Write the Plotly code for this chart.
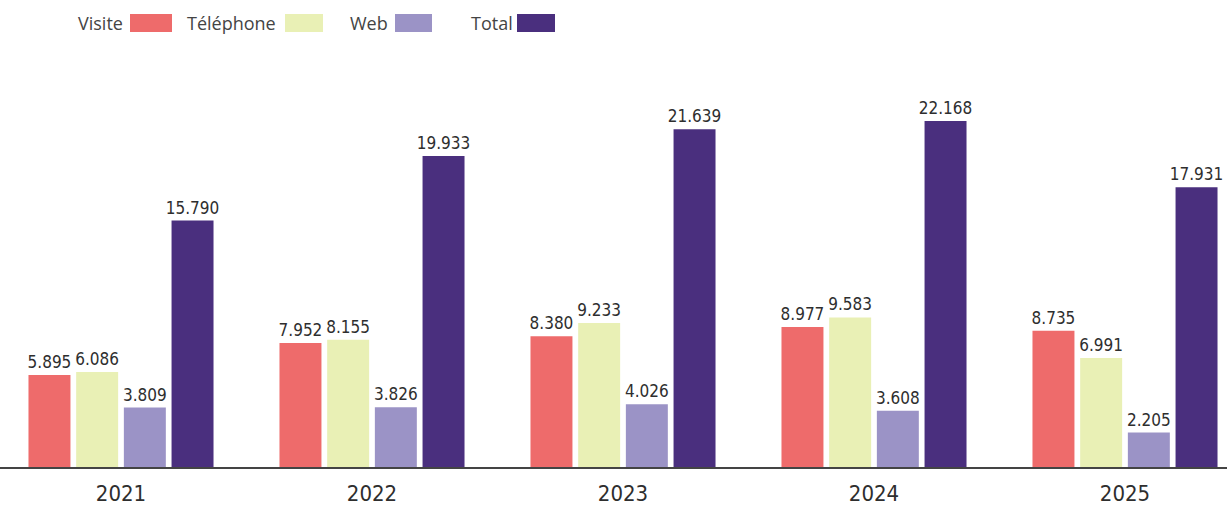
import plotly.graph_objects as go

years = ["2021", "2022", "2023", "2024", "2025"]
visite = [5895, 7952, 8380, 8977, 8735]
telephone = [6086, 8155, 9233, 9583, 6991]
web = [3809, 3826, 4026, 3608, 2205]
total = [15790, 19933, 21639, 22168, 17931]

series = [
    ("Visite", visite, "#EE6B6B"),
    ("Téléphone", telephone, "#E9F0B5"),
    ("Web", web, "#9B93C6"),
    ("Total", total, "#4A2F7E"),
]

W, H = 1227, 512
top, bottom = 80, 45
plot_h = H - top - bottom
xpos = list(range(len(years)))

label_font = "DejaVu Sans Condensed, Liberation Sans Narrow, Arial Narrow, sans-serif"

fig = go.Figure()
for name, vals, col in series:
    fig.add_trace(go.Bar(
        x=xpos, y=vals, name=name,
        marker=dict(color=col, line=dict(width=0)),
        texttemplate="%{y:,}", textposition="outside",
        textfont=dict(family=label_font, size=17, color="#2e2e2e"),
        constraintext="none",
        cliponaxis=False, showlegend=False,
    ))

# custom legend: text then swatch
legend_items = [(78, 130, 172), (187, 285, 323), (350, 395, 432), (471, 517, 555)]
annotations = []
shapes = []
for (name, _, col), (tx, sx0, sx1) in zip(series, legend_items):
    annotations.append(dict(
        x=tx / W, y=(H - bottom - 23) / plot_h, xref="paper", yref="paper",
        text=name, showarrow=False, xanchor="left", yanchor="middle",
        xshift=-2,
        font=dict(family="Open Sans, sans-serif", size=18, color="#444444"),
    ))
    shapes.append(dict(
        type="rect", xref="paper", yref="paper",
        x0=sx0 / W, x1=sx1 / W,
        y0=(H - bottom - 32) / plot_h, y1=(H - bottom - 14) / plot_h,
        fillcolor=col, line=dict(width=0),
    ))

unit = 251.0
start = 121.0
fig.update_layout(
    width=W, height=H,
    margin=dict(l=0, r=0, t=top, b=bottom),
    paper_bgcolor="white", plot_bgcolor="white",
    barmode="group", bargap=0.24, bargroupgap=0.12,
    separators=",.",
    annotations=annotations, shapes=shapes,
    xaxis=dict(
        range=[-start / unit, (W - start) / unit],
        tickvals=xpos, ticktext=years,
        showgrid=False, zeroline=False,
        showline=True, linecolor="#444444", linewidth=1.5,
        ticks="", ticklabelstandoff=6,
        tickfont=dict(family=label_font, size=22, color="#2e2e2e"),
        fixedrange=True,
    ),
    yaxis=dict(
        range=[0, 24800], visible=False, showgrid=False, zeroline=False,
        fixedrange=True,
    ),
)

fig.write_html(
    "out.html",
    config={"displayModeBar": False},
    post_script="document.body.style.margin='0';document.body.style.overflow='hidden';",
)
